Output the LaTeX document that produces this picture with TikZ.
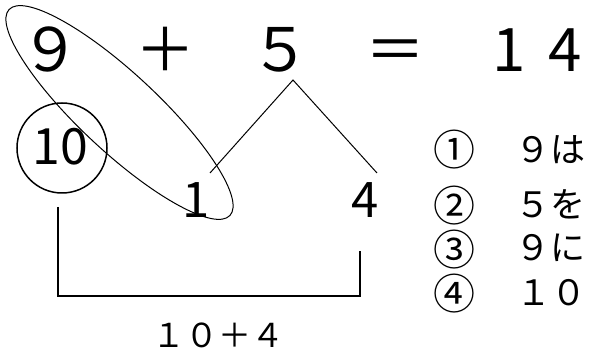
\documentclass[tikz,border=0pt]{standalone}
\usepackage{fontspec}
\setmainfont{Noto Sans CJK JP}
\begin{document}
\begin{tikzpicture}[x=1pt,y=1pt,
  big/.style={inner sep=0pt, anchor=base, font=\fontsize{60}{60}\selectfont},
  mid/.style={inner sep=0pt, anchor=base, font=\fontsize{49}{49}\selectfont},
  small/.style={inner sep=0pt, anchor=base, font=\fontsize{35}{35}\selectfont},
  circnum/.style={inner sep=0pt, anchor=center, font=\fontsize{42}{42}\selectfont},
  thin/.style={line width=1pt},
  thick/.style={line width=2pt}]
\useasboundingbox (0,0) rectangle (590,355);
% top row (pixel y -> 355 - y)
\node[big] (n9) at (50,283) {９};
\node[big] (plus) at (165,283) {＋};
\node[big] (n5) at (280,283) {５};
\node[big] (eq) at (395,283) {＝};
\node[big] (n1t) at (509,283) {1};
\node[big] (n4t) at (565,283) {4};
% ten in circle
\node[circle, draw, line width=1.5pt, minimum size=90pt, inner sep=0pt] (c10) at (62,207) {};
\node[mid, font=\fontsize{50}{50}\selectfont] (n10) at (60,190) {10};
% decomposition
\node[mid] (n1) at (196,137) {1};
\node[mid] (n4) at (365,137) {4};
\coordinate (apex) at (293,275);
\coordinate (e1) at (210,182);
\coordinate (e4) at (377,182);
\draw[thin] (e1) -- (apex) -- (e4);
% ellipse
\draw[thin, rotate around={-43:(119.5,242.5)}] (119.5,242.5) ellipse [x radius=151, y radius=39];
% bracket
\coordinate (bl) at (58,148);
\coordinate (br) at (360,104);
\draw[thick] (bl) -- (58,59) -- (360,59) -- (br);
\node[small, font=\fontsize{33}{33}\selectfont] (sum) at (218,7) {１０＋４};
% list
\node[circnum] (c1) at (454,205) {①};
\node[circnum] (c2) at (454,149) {②};
\node[circnum] (c3) at (454,105) {③};
\node[circnum] (c4) at (454,61) {④};
\node[small] (t1) at (550,192) {９は};
\node[small] (t2) at (550,137) {５を};
\node[small] (t3) at (550,94) {９に};
\node[small] (t4) at (551,49) {１０};
\end{tikzpicture}
\end{document}
